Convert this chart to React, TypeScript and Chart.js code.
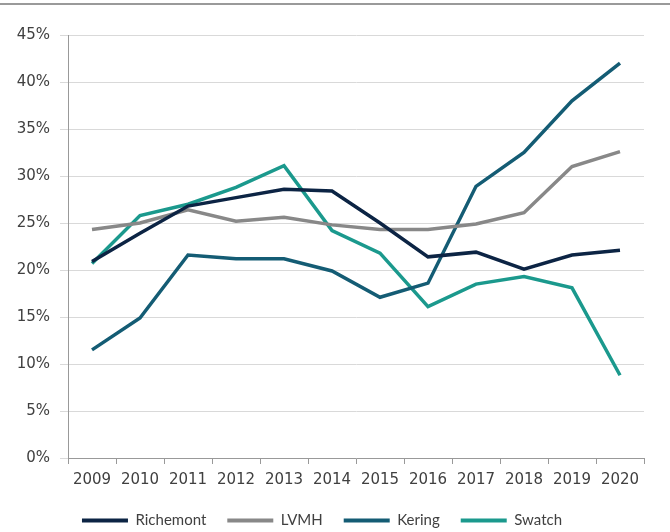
import React, { useEffect, useRef } from "react";
import { Chart, registerables } from "chart.js";

Chart.register(...registerables);

const years = ["2009", "2010", "2011", "2012", "2013", "2014", "2015", "2016", "2017", "2018", "2019", "2020"];
const richemont = [20.9, 23.9, 26.8, 27.7, 28.6, 28.4, 25.0, 21.4, 21.9, 20.1, 21.6, 22.1];
const lvmh = [24.3, 25.0, 26.4, 25.2, 25.6, 24.8, 24.3, 24.3, 24.9, 26.1, 31.0, 32.6];
const kering = [11.5, 14.9, 21.6, 21.2, 21.2, 19.9, 17.1, 18.6, 28.9, 32.5, 38.0, 42.0];
const swatch = [20.7, 25.8, 27.0, 28.8, 31.1, 24.2, 21.8, 16.1, 18.5, 19.3, 18.1, 8.8];

const TICK_FONT = "'DejaVu Sans', sans-serif";
const LEGEND_FONT = "Lato, 'Open Sans', sans-serif";
const TEXT = "#404040";

export default function App() {
  const ref = useRef<HTMLCanvasElement | null>(null);
  useEffect(() => {
    if (!ref.current) return;
    const mk = (label: string, data: number[], color: string) => ({
      label,
      data,
      borderColor: color,
      backgroundColor: color,
      borderWidth: 3.5,
      pointRadius: 0,
      tension: 0,
      fill: false,
    });
    const chart = new Chart(ref.current, {
      type: "line",
      data: {
        labels: years,
        datasets: [
          mk("Richemont", richemont, "#0c2444"),
          mk("LVMH", lvmh, "#888888"),
          mk("Kering", kering, "#145c74"),
          mk("Swatch", swatch, "#1b998d"),
        ],
      },
      options: {
        animation: false,
        responsive: false,
        devicePixelRatio: 1,
        layout: { padding: { top: 35, right: 26, left: 0, bottom: -6 } },
        plugins: {
          tooltip: { enabled: false },
          legend: {
            position: "bottom",
            labels: {
              color: TEXT,
              font: { family: LEGEND_FONT, size: 15 },
              boxWidth: 46,
              boxHeight: 4,
              padding: 21,
              generateLabels: (c: any) => {
                const items = Chart.defaults.plugins.legend.labels.generateLabels(c);
                return items.map((it: any) => ({ ...it, lineWidth: 0, fillStyle: it.strokeStyle }));
              },
            },
          },
        },
        scales: {
          x: {
            type: "category",
            offset: true,
            grid: { offset: true, drawOnChartArea: false, drawTicks: true, tickLength: 6, color: "#999999" },
            border: { color: "#999999" },
            ticks: { color: TEXT, font: { family: TICK_FONT, size: 15 }, padding: 7, maxRotation: 0, autoSkip: false },
            afterFit: (s: any) => {
              s.height = 34;
            },
          },
          y: {
            min: 0,
            max: 45,
            grid: { color: "#d9d9d9", tickLength: 8 },
            border: { color: "#999999" },
            ticks: {
              stepSize: 5,
              color: TEXT,
              font: { family: TICK_FONT, size: 15 },
              padding: 10,
              callback: (v: any) => v + "%",
            },
            afterFit: (s: any) => {
              s.width = 68;
            },
          },
        },
      },
    });
    return () => chart.destroy();
  }, []);
  return (
    <div style={{ position: "absolute", left: 0, top: 0, width: 670, height: 532, background: "#fff" }}>
      <div style={{ position: "absolute", left: 0, top: 3, width: 670, height: 2, background: "#9a9a9a" }} />
      <canvas ref={ref} width={670} height={532} style={{ display: "block" }} />
    </div>
  );
}
